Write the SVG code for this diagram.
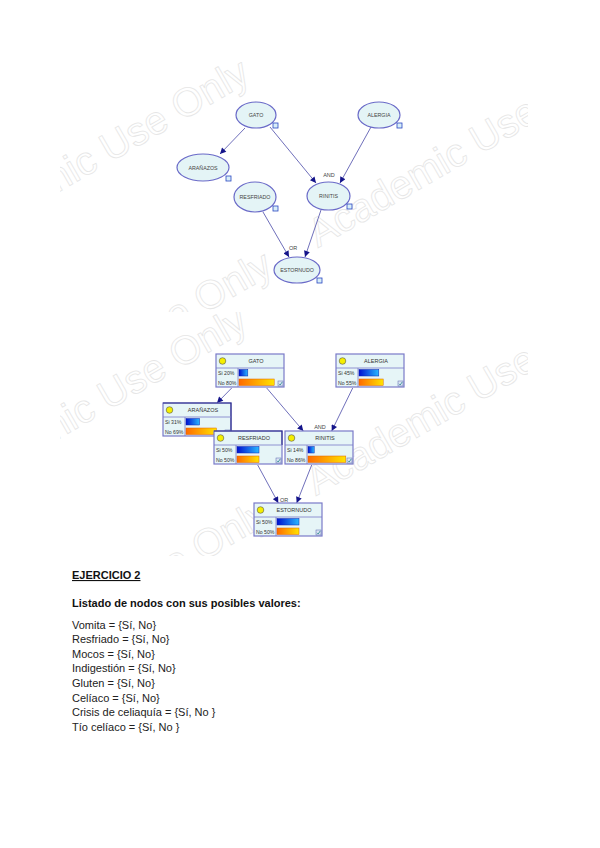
<svg xmlns="http://www.w3.org/2000/svg" xmlns:xlink="http://www.w3.org/1999/xlink" width="600" height="848" viewBox="0 0 600 848">
<style>
  .wm { font-family: "Liberation Sans", Arial, sans-serif; font-size: 40px; fill: #ffffff; stroke: #e6e6e6; stroke-width: 0.8; }
  .ell { fill: #e4f4f6; stroke: #6a6ac8; stroke-width: 1.2; }
  .ico { fill: #d8eef8; stroke: #2a46c0; stroke-width: 0.8; }
  .et { font-family: "Liberation Sans", Arial, sans-serif; font-size: 5.3px; fill: #444; text-anchor: middle; }
  .edge { stroke: #4a4aa8; stroke-width: 0.8; fill: none; marker-end: url(#ah); }
  .lbl { font-family: "Liberation Sans", Arial, sans-serif; font-size: 5.5px; fill: #444; text-anchor: middle; }
  .box { fill: #e6f5f7; stroke: #7a7ac8; stroke-width: 1.2; }
  .sep { stroke: #7a7ac8; stroke-width: 0.8; }
  .dark { stroke: #2a2a8a; stroke-width: 1.1; fill: none; }
  .led { fill: #f4ee00; stroke: #555; stroke-width: 0.6; }
  .bt { font-family: "Liberation Sans", Arial, sans-serif; font-size: 5.5px; fill: #333; text-anchor: middle; }
  .bv { font-family: "Liberation Sans", Arial, sans-serif; font-size: 5.2px; fill: #333; }
  .barS { fill: url(#gS); stroke: #1020b0; stroke-width: 0.5; }
  .barN { fill: url(#gN); stroke: #e06000; stroke-width: 0.5; }
  .h1 { font-family: "Liberation Sans", Arial, sans-serif; font-size: 11px; font-weight: bold; fill: #111; }
  .tx { font-family: "Liberation Sans", Arial, sans-serif; font-size: 11px; fill: #222; }
</style>
<defs>
  <marker id="ah" viewBox="0 0 10 10" refX="10" refY="5" markerWidth="7" markerHeight="6" markerUnits="userSpaceOnUse" orient="auto">
    <path d="M0,0 L10,5 L0,10 z" fill="#14148a"/>
  </marker>
  <linearGradient id="gS" x1="0" y1="0" x2="1" y2="0">
    <stop offset="0" stop-color="#0010d0"/>
    <stop offset="1" stop-color="#28b8ff"/>
  </linearGradient>
  <linearGradient id="gN" x1="0" y1="0" x2="1" y2="0">
    <stop offset="0" stop-color="#ff6a00"/>
    <stop offset="1" stop-color="#ffe400"/>
  </linearGradient>
  <g id="chk">
    <rect x="0" y="0" width="5" height="5" fill="#dde4f4" stroke="#5566aa" stroke-width="0.5"/>
    <path d="M1,2.8 L2.2,4 L4.2,1" fill="none" stroke="#108080" stroke-width="0.7"/>
  </g>
  <g id="wmark">
    <text class="wm" transform="translate(-52,256) rotate(-30)">Academic Use Only</text>
    <text class="wm" transform="translate(318,248) rotate(-30)">Academic Use Only</text>
    <text class="wm" text-anchor="end" transform="translate(275,272.8) rotate(-30)">Academic Use Only</text>
  </g>
  <clipPath id="clipTop"><rect x="60" y="62" width="468" height="250"/></clipPath>
  <clipPath id="clipBot"><rect x="60" y="312" width="468" height="244"/></clipPath>
</defs>

<rect width="600" height="848" fill="#ffffff"/>

<!-- watermarks -->
<g id="watermark-top" clip-path="url(#clipTop)">
  <use xlink:href="#wmark"/>
</g>
<g id="watermark-bottom" clip-path="url(#clipBot)">
  <use xlink:href="#wmark" transform="translate(-2,248)"/>
</g>

<!-- ===== Top graph ===== -->
<g id="top-connectors">
  <line class="edge" x1="245" y1="128" x2="220" y2="154"/>
  <line class="edge" x1="270" y1="127" x2="316" y2="183"/>
  <line class="edge" x1="371" y1="127" x2="340" y2="183"/>
  <line class="edge" x1="263" y1="212" x2="289" y2="257"/>
  <line class="edge" x1="321" y1="210" x2="305" y2="257"/>
  <text class="lbl" x="329" y="177">AND</text>
  <text class="lbl" x="293" y="250">OR</text>
</g>
<g id="t-gato">
  <ellipse class="ell" cx="256" cy="115" rx="20" ry="13"/>
  <text class="et" x="256" y="117">GATO</text>
  <rect class="ico" x="273" y="123" width="5" height="5"/>
</g>
<g id="t-alergia">
  <ellipse class="ell" cx="379" cy="115" rx="21" ry="13"/>
  <text class="et" x="379" y="117">ALERGIA</text>
  <rect class="ico" x="397" y="123" width="5" height="5"/>
</g>
<g id="t-aranazos">
  <ellipse class="ell" cx="203" cy="167.5" rx="26" ry="13.5"/>
  <text class="et" x="203" y="169.5">ARAÑAZOS</text>
  <rect class="ico" x="226" y="176" width="5" height="5"/>
</g>
<g id="t-resfriado">
  <ellipse class="ell" cx="255" cy="197" rx="21" ry="15"/>
  <text class="et" x="255" y="199">RESFRIADO</text>
  <rect class="ico" x="273" y="206" width="5" height="5"/>
</g>
<g id="t-rinitis">
  <ellipse class="ell" cx="328.5" cy="196" rx="21.5" ry="14"/>
  <text class="et" x="328.5" y="198">RINITIS</text>
  <rect class="ico" x="347" y="204" width="5" height="5"/>
</g>
<g id="t-estornudo">
  <ellipse class="ell" cx="297" cy="270" rx="23" ry="13"/>
  <text class="et" x="297" y="272">ESTORNUDO</text>
  <rect class="ico" x="317" y="278" width="5" height="5"/>
</g>

<!-- ===== Bottom graph ===== -->
<g id="bottom-connectors">
  <line class="edge" x1="231.7" y1="388" x2="217" y2="403"/>
  <line class="edge" x1="266.7" y1="388" x2="303.3" y2="431"/>
  <line class="edge" x1="352.7" y1="388" x2="331.7" y2="431"/>
  <line class="edge" x1="257.7" y1="465" x2="278.3" y2="503"/>
  <line class="edge" x1="311.7" y1="465" x2="296.7" y2="503"/>
  <text class="lbl" x="320" y="429">AND</text>
  <text class="lbl" x="284" y="502">OR</text>
</g>

<g id="b-gato" transform="translate(216,354)">
  <rect class="box" width="68" height="33"/>
  <line class="sep" x1="0" y1="14" x2="68" y2="14"/>
  <line class="sep" x1="22" y1="14" x2="22" y2="33"/>
  <circle class="led" cx="6.5" cy="7" r="3.3"/>
  <text class="bt" x="40" y="9">GATO</text>
  <text class="bv" x="2" y="21">Si 20%</text>
  <rect class="barS" x="23" y="15.5" width="8.8" height="6.5"/>
  <text class="bv" x="2" y="30.5">No 80%</text>
  <rect class="barN" x="23" y="25" width="35.2" height="6.5"/>
  <use xlink:href="#chk" x="62" y="27"/>
</g>

<g id="b-alergia" transform="translate(336,354)">
  <rect class="box" width="68" height="33"/>
  <line class="sep" x1="0" y1="14" x2="68" y2="14"/>
  <line class="sep" x1="22" y1="14" x2="22" y2="33"/>
  <circle class="led" cx="6.5" cy="7" r="3.3"/>
  <text class="bt" x="40" y="9">ALERGIA</text>
  <text class="bv" x="2" y="21">Si 45%</text>
  <rect class="barS" x="23" y="15.5" width="19.8" height="6.5"/>
  <text class="bv" x="2" y="30.5">No 55%</text>
  <rect class="barN" x="23" y="25" width="24.2" height="6.5"/>
  <use xlink:href="#chk" x="62" y="27"/>
</g>

<g id="b-aranazos" transform="translate(163,403)">
  <rect class="box" width="68" height="33"/>
  <polyline class="dark" points="0,0 68,0 68,33"/>
  <line class="sep" x1="0" y1="14" x2="68" y2="14"/>
  <line class="sep" x1="22" y1="14" x2="22" y2="33"/>
  <circle class="led" cx="6.5" cy="7" r="3.3"/>
  <text class="bt" x="40" y="9">ARAÑAZOS</text>
  <text class="bv" x="2" y="21">Si 31%</text>
  <rect class="barS" x="23" y="15.5" width="13.6" height="6.5"/>
  <text class="bv" x="2" y="30.5">No 69%</text>
  <rect class="barN" x="23" y="25" width="30.4" height="6.5"/>
  <use xlink:href="#chk" x="62" y="27"/>
</g>

<g id="b-resfriado" transform="translate(214,431)">
  <rect class="box" width="68" height="33"/>
  <polyline class="dark" points="0,0 68,0 68,14"/>
  <line class="sep" x1="0" y1="14" x2="68" y2="14"/>
  <line class="sep" x1="22" y1="14" x2="22" y2="33"/>
  <circle class="led" cx="6.5" cy="7" r="3.3"/>
  <text class="bt" x="40" y="9">RESFRIADO</text>
  <text class="bv" x="2" y="21">Si 50%</text>
  <rect class="barS" x="23" y="15.5" width="22" height="6.5"/>
  <text class="bv" x="2" y="30.5">No 50%</text>
  <rect class="barN" x="23" y="25" width="22" height="6.5"/>
  <use xlink:href="#chk" x="62" y="27"/>
</g>

<g id="b-rinitis" transform="translate(285,431)">
  <rect class="box" width="68" height="33"/>
  <line class="sep" x1="0" y1="14" x2="68" y2="14"/>
  <line class="sep" x1="22" y1="14" x2="22" y2="33"/>
  <circle class="led" cx="6.5" cy="7" r="3.3"/>
  <text class="bt" x="40" y="9">RINITIS</text>
  <text class="bv" x="2" y="21">Si 14%</text>
  <rect class="barS" x="23" y="15.5" width="6.2" height="6.5"/>
  <text class="bv" x="2" y="30.5">No 86%</text>
  <rect class="barN" x="23" y="25" width="37.8" height="6.5"/>
  <use xlink:href="#chk" x="62" y="27"/>
</g>

<g id="b-estornudo" transform="translate(254,503)">
  <rect class="box" width="68" height="33"/>
  <line class="sep" x1="0" y1="14" x2="68" y2="14"/>
  <line class="sep" x1="22" y1="14" x2="22" y2="33"/>
  <circle class="led" cx="6.5" cy="7" r="3.3"/>
  <text class="bt" x="40" y="9">ESTORNUDO</text>
  <text class="bv" x="2" y="21">Si 50%</text>
  <rect class="barS" x="23" y="15.5" width="22" height="6.5"/>
  <text class="bv" x="2" y="30.5">No 50%</text>
  <rect class="barN" x="23" y="25" width="22" height="6.5"/>
  <use xlink:href="#chk" x="62" y="27"/>
</g>

<!-- ===== Text ===== -->
<g id="text-block">
  <text class="h1" x="72" y="579" text-decoration="underline">EJERCICIO 2</text>
  <text class="h1" x="72" y="607">Listado de nodos con sus posibles valores:</text>
  <text class="tx" x="72" y="628.5">Vomita = {Sí, No}</text>
  <text class="tx" x="72" y="643.1">Resfriado = {Sí, No}</text>
  <text class="tx" x="72" y="657.7">Mocos = {Sí, No}</text>
  <text class="tx" x="72" y="672.3">Indigestión = {Sí, No}</text>
  <text class="tx" x="72" y="686.9">Gluten = {Sí, No}</text>
  <text class="tx" x="72" y="701.5">Celíaco = {Sí, No}</text>
  <text class="tx" x="72" y="716.1">Crisis de celiaquía = {Sí, No }</text>
  <text class="tx" x="72" y="730.7">Tío celíaco = {Sí, No }</text>
</g>
</svg>
